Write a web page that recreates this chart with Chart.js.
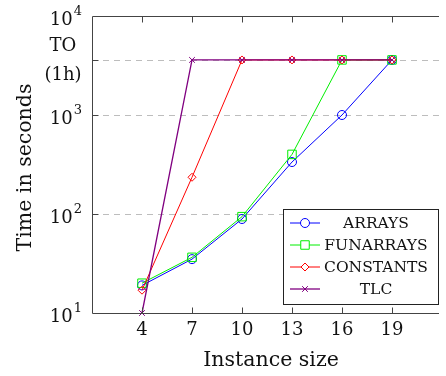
<!DOCTYPE html>
<html>
<head>
<meta charset="utf-8">
<script src="https://cdn.jsdelivr.net/npm/chart.js@4"></script>
<style>
  html, body { margin: 0; padding: 0; background: #fff; overflow: hidden; }
  #wrap { width: 446px; height: 376px; }
</style>
</head>
<body>
<div id="wrap"><canvas id="chart"></canvas></div>
<script>
const sizes = [4, 7, 10, 13, 16, 19];
const arrays = [19, 35, 89, 335, 1000, 3600];
const funarrays = [20, 36.5, 94, 400, 3600, 3600];
const constants = [17, 235, 3600, 3600, 3600, 3600];
const tlc = [10, 3600, 3600, 3600, 3600, 3600];

const xTicks = [4, 7, 10, 13, 16, 19];
const yGrid = [100, 1000, 3600];
const yPowers = [1, 2, 3, 4];
const TIMEOUT = 3600;

const FONT = '"DejaVu Serif", serif';
const AXIS = '#444';

const series = [
    { label: 'ARRAYS', data: arrays, color: '#0000ff', style: 'circle', radius: 4.5, width: 1 },
    { label: 'FUNARRAYS', data: funarrays, color: '#00ee00', style: 'rect', radius: 6, width: 1 },
    { label: 'CONSTANTS', data: constants, color: '#ff0000', style: 'rectRot', radius: 4, width: 1 },
    { label: 'TLC', data: tlc, color: '#800080', style: 'crossRot', radius: 4, width: 1.3 }
];

function drawPow(ctx, exp, xRight, y) {
    ctx.font = '18px ' + FONT;
    const wb = ctx.measureText('10').width;
    ctx.font = '13px ' + FONT;
    const we = ctx.measureText(String(exp)).width;
    const x0 = xRight - we - wb - 1;
    ctx.textAlign = 'left';
    ctx.textBaseline = 'middle';
    ctx.font = '18px ' + FONT;
    ctx.fillText('10', x0, y + 4);
    ctx.font = '13px ' + FONT;
    ctx.fillText(String(exp), x0 + wb + 1, y - 4);
}

const frame = {
    id: 'frame',
    beforeDatasetsDraw(chart) {
        const { ctx, chartArea: a, scales: { y } } = chart;
        ctx.save();
        ctx.strokeStyle = '#bdbdbd';
        ctx.lineWidth = 1;
        ctx.setLineDash([6, 5]);
        yGrid.forEach(v => {
            const py = Math.round(y.getPixelForValue(v)) + 0.5;
            ctx.beginPath();
            ctx.moveTo(a.left, py);
            ctx.lineTo(a.right, py);
            ctx.stroke();
        });
        ctx.restore();
    },
    afterDraw(chart) {
        const { ctx, chartArea: a, scales: { x, y } } = chart;
        ctx.save();
        ctx.strokeStyle = AXIS;
        ctx.lineWidth = 1;
        const l = Math.round(a.left) + 0.5, t = Math.round(a.top) + 0.5, b = Math.round(a.bottom) + 0.5;
        ctx.beginPath();
        ctx.moveTo(a.right, t); ctx.lineTo(l, t); ctx.lineTo(l, b); ctx.lineTo(a.right, b);
        // ticks point inward, like pgfplots
        xTicks.forEach(v => {
            const px = Math.round(x.getPixelForValue(v)) + 0.5;
            ctx.moveTo(px, b); ctx.lineTo(px, b - 6);
            ctx.moveTo(px, t); ctx.lineTo(px, t + 6);
        });
        [100, 1000, TIMEOUT].forEach(v => {
            const py = Math.round(y.getPixelForValue(v)) + 0.5;
            ctx.moveTo(l, py); ctx.lineTo(l + 6, py);
        });
        ctx.stroke();

        ctx.fillStyle = '#111';
        ctx.font = '18px ' + FONT;
        ctx.textAlign = 'center';
        ctx.textBaseline = 'middle';
        xTicks.forEach(v => ctx.fillText(String(v), x.getPixelForValue(v), a.bottom + 17));
        yPowers.forEach(p => drawPow(ctx, p, a.left - 10, y.getPixelForValue(Math.pow(10, p))));
        const ty = y.getPixelForValue(TIMEOUT);
        ctx.font = '18px ' + FONT;
        ctx.textAlign = 'center';
        ctx.textBaseline = 'middle';
        ctx.fillText('TO', 63, ty - 14);
        ctx.fillText('(1h)', 63, ty + 15);

        // axis titles
        ctx.font = '20.5px ' + FONT;
        ctx.fillText('Instance size', (a.left + 450) / 2, 361);
        ctx.save();
        ctx.translate(26, (a.top + a.bottom) / 2 + 3);
        ctx.rotate(-Math.PI / 2);
        ctx.fillText('Time in seconds', 0, 0);
        ctx.restore();

        // legend
        const lx = 283.5, ly = 209.5, lw = 155, lh = 95;
        ctx.fillStyle = '#fff';
        ctx.fillRect(lx, ly, lw, lh);
        ctx.strokeStyle = '#222';
        ctx.strokeRect(lx, ly, lw, lh);
        const rows = [223, 245, 267, 289];
        chart.data.datasets.forEach((ds, i) => {
            const ry = rows[i];
            ctx.strokeStyle = ds.borderColor;
            ctx.lineWidth = ds.borderWidth;
            ctx.beginPath();
            ctx.moveTo(290, ry); ctx.lineTo(320, ry);
            ctx.stroke();
            ctx.fillStyle = '#fff';
            ctx.lineWidth = 1;
            Chart.helpers.drawPoint(ctx, {
                pointStyle: ds.pointStyle, radius: ds.pointRadius, borderWidth: 1, rotation: 0
            }, 305, ry);
            ctx.fillStyle = '#111';
            ctx.font = '15.5px ' + FONT;
            ctx.textAlign = 'center';
            ctx.textBaseline = 'middle';
            ctx.fillText(ds.label, 376, ry + 1);
        });
        ctx.restore();
    }
};

new Chart(document.getElementById('chart'), {
    type: 'line',
    data: {
        datasets: series.map((s, i) => ({
            label: s.label,
            data: sizes.map((v, k) => ({ x: v, y: s.data[k] })),
            borderColor: s.color,
            backgroundColor: 'rgba(0,0,0,0)',
            pointBorderColor: s.color,
            pointBackgroundColor: 'rgba(0,0,0,0)',
            pointStyle: s.style,
            pointRadius: s.radius,
            pointHoverRadius: s.radius,
            pointBorderWidth: 1,
            borderWidth: s.width,
            tension: 0,
            clip: false,
            order: series.length - i
        }))
    },
    options: {
        responsive: true,
        maintainAspectRatio: false,
        animation: false,
        devicePixelRatio: 1,
        layout: { padding: { left: 92, top: 16, right: 0, bottom: 63 } },
        plugins: { legend: { display: false }, tooltip: { enabled: false } },
        scales: {
            x: { type: 'linear', display: false, min: 1, max: 21.82 },
            y: { type: 'logarithmic', display: false, min: 10, max: 10000 }
        }
    },
    plugins: [frame]
});
</script>
</body>
</html>
